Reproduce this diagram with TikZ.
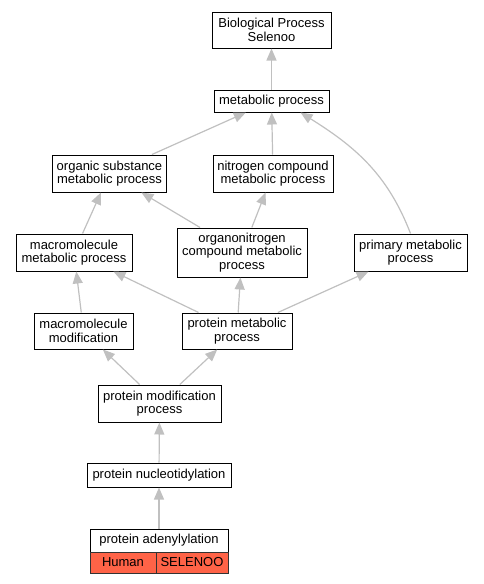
\documentclass[tikz,border=0pt]{standalone}
\usepackage{fontspec}
\setmainfont{Liberation Sans}
\usetikzlibrary{arrows.meta}

\definecolor{edgegray}{RGB}{192,192,192}
\definecolor{hit}{RGB}{255,99,71}

\tikzset{
  term/.style={draw=black, line width=1pt, fill=white, inner sep=0pt, align=center,
    font=\fontsize{13}{13.5}\selectfont},
  cell/.style={term, draw=black!80, fill=hit},
  isa/.style={draw=edgegray, line width=1.2pt, -{Triangle[length=12pt,width=10pt]}}
}

\begin{document}
\begin{tikzpicture}[x=1pt,y=-1pt]
\useasboundingbox (0,0) rectangle (483,584);

% terms, top to bottom
\node[term, minimum width=119, minimum height=36] (bp) at (271.5,30) {Biological Process\\Selenoo};
\node[term, minimum width=115, minimum height=22] (met) at (271.5,101) {metabolic process};
\node[term, minimum width=114, minimum height=37] (org) at (109.5,173.5) {organic substance\\metabolic process};
\node[term, minimum width=120, minimum height=37] (nit) at (273,173.5) {nitrogen compound\\metabolic process};
\node[term, minimum width=116, minimum height=37] (mm) at (74,252.5) {macromolecule\\metabolic process};
\node[term, minimum width=130, minimum height=49] (onc) at (242,252.5) {organonitrogen\\compound metabolic\\process};
\node[term, minimum width=113, minimum height=37] (prim) at (410.5,252.5) {primary metabolic\\process};
\node[term, minimum width=99, minimum height=36] (mmod) at (83.5,331) {macromolecule\\modification};
\node[term, minimum width=110, minimum height=36] (pm) at (237,331) {protein metabolic\\process};
\node[term, minimum width=123, minimum height=37] (pmod) at (159.5,403.5) {protein modification\\process};
\node[term, minimum width=144, minimum height=24] (nuc) at (159,475) {protein nucleotidylation};
\node[term, minimum width=138, minimum height=23] (ade) at (159,540.5) {protein adenylylation};
\node[cell, minimum width=66, minimum height=21] (human) at (123,562.5) {Human};
\node[cell, minimum width=72, minimum height=21] (sel) at (192,562.5) {SELENOO};

% is-a links
\foreach \a/\b in {met/bp, org/met, nit/met, mm/org, onc/org, onc/nit,
                   mmod/mm, pm/mm, pm/onc, pm/prim, pmod/mmod, pmod/pm,
                   nuc/pmod, ade/nuc}
  \draw[isa] (\a) -- (\b);
\draw[isa] (prim.north) to[out=111,in=-32] ([xshift=29pt]met.south);

\end{tikzpicture}
\end{document}
